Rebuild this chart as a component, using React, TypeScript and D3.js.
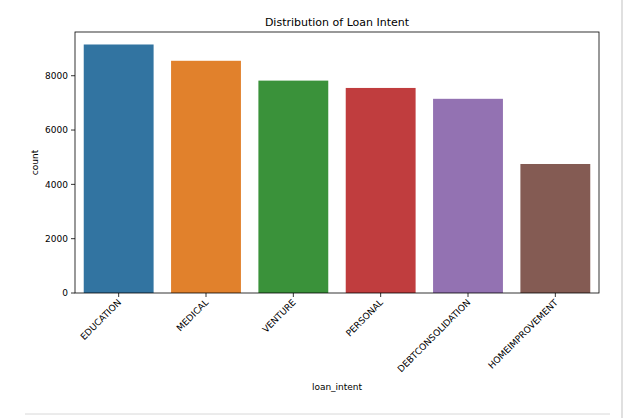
import React from 'react';
import * as d3 from 'd3';

const categories = ['EDUCATION', 'MEDICAL', 'VENTURE', 'PERSONAL', 'DEBTCONSOLIDATION', 'HOMEIMPROVEMENT'];
const counts = [9150, 8550, 7820, 7550, 7150, 4750];
const colors = ['#3274a1', '#e1812c', '#3a923a', '#c03d3e', '#9372b2', '#845b53'];
const yTicks = [0, 2000, 4000, 6000, 8000];

const W = 633;
const H = 418;
const left = 75, right = 599, top = 32, bottom = 293;

const App: React.FC = () => {
  const x = d3.scaleBand<string>().domain(categories).range([left, right]).paddingInner(0.2).paddingOuter(0.1);
  const y = d3.scaleLinear().domain([0, 9610]).range([bottom, top]);
  const font = 'DejaVu Sans, sans-serif';

  return (
    <svg width={W} height={H} style={{ position: 'absolute', left: 0, top: 0, fontFamily: font }}>
      <rect width={W} height={H} fill="#fff" />
      <text x={(left + right) / 2} y={26} textAnchor="middle" fontSize={11}>Distribution of Loan Intent</text>
      {categories.map((c, i) => (
        <rect key={c} x={x(c)} y={y(counts[i])} width={x.bandwidth()} height={bottom - y(counts[i])} fill={colors[i]} />
      ))}
      <rect x={left} y={top} width={right - left} height={bottom - top} fill="none" stroke="#000" strokeWidth={0.8} />
      {yTicks.map(t => (
        <g key={t} transform={`translate(${left},${y(t)})`}>
          <line x1={-4} x2={0} stroke="#000" strokeWidth={0.8} />
          <text x={-7} dy="0.35em" textAnchor="end" fontSize={9}>{t}</text>
        </g>
      ))}
      {categories.map(c => {
        const cx = (x(c) as number) + x.bandwidth() / 2;
        return (
          <g key={c} transform={`translate(${cx},${bottom})`}>
            <line y2={4} stroke="#000" strokeWidth={0.8} />
            <text transform="translate(3,10) rotate(-45)" textAnchor="end" fontSize={9}>{c}</text>
          </g>
        );
      })}
      <text transform={`translate(38,${(top + bottom) / 2}) rotate(-90)`} textAnchor="middle" fontSize={9}>count</text>
      <text x={(left + right) / 2} y={390} textAnchor="middle" fontSize={9}>loan_intent</text>
      <line x1={622} x2={622} y1={0} y2={H} stroke="#e0e0e0" strokeWidth={2} />
      <line x1={25} x2={610} y1={414} y2={414} stroke="#d8d8d8" strokeWidth={1} />
    </svg>
  );
};

export default App;
